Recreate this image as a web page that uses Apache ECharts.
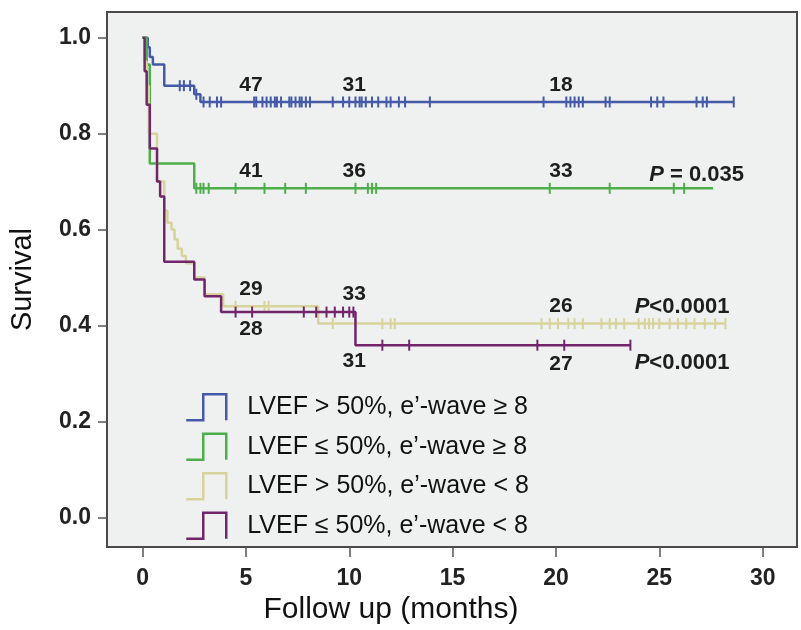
<!DOCTYPE html>
<html>
<head>
<meta charset="utf-8">
<script src="https://cdn.jsdelivr.net/npm/echarts@6/dist/echarts.min.js"></script>
<style>
html, body { margin: 0; padding: 0; background: #fff; }
#main { width: 801px; height: 630px; }
</style>
</head>
<body>
<div id="main"></div>
<script>
// survival curves (months, survival after each drop)
var groupNames = [
    'LVEF > 50%, e\u2019-wave \u2265 8',
    'LVEF \u2264 50%, e\u2019-wave \u2265 8',
    'LVEF > 50%, e\u2019-wave < 8',
    'LVEF \u2264 50%, e\u2019-wave < 8'
];

var blueTimes = [0.25, 0.35, 0.5, 1.05, 2.5, 2.8];
var blueSurv = [0.98, 0.96, 0.944, 0.90, 0.882, 0.866];
var blueEnd = 28.6;
var blueCensor = [1.8, 2.0, 2.3, 2.6, 2.95, 3.25, 3.6, 3.8, 5.4, 5.5, 5.8, 6.0, 6.2, 6.4, 6.5, 6.7, 7.1, 7.2, 7.4, 7.6, 7.7, 7.9, 8.1,
    9.2, 9.7, 10.0, 10.3, 10.5, 10.6, 10.8, 11.1, 11.4, 11.8, 12.0, 12.4, 12.7, 13.9, 19.4, 20.5, 20.7, 20.9, 21.1, 21.3,
    22.4, 22.6, 24.6, 24.9, 25.2, 26.8, 27.1, 27.3, 28.6];

var greenTimes = [0.2, 0.35, 2.5];
var greenSurv = [0.944, 0.738, 0.686];
var greenEnd = 27.6;
var greenCensor = [2.6, 2.8, 2.95, 3.2, 4.5, 5.9, 6.9, 7.9, 10.3, 10.9, 11.1, 11.3, 19.7, 22.6, 25.7, 26.2];

var tanTimes = [0.1, 0.2, 0.3, 0.7, 1.05, 1.2, 1.4, 1.55, 1.7, 1.9, 2.1, 2.5, 3.0, 3.9, 8.5];
var tanSurv = [0.95, 0.90, 0.80, 0.70, 0.64, 0.614, 0.60, 0.58, 0.56, 0.545, 0.53, 0.50, 0.465, 0.44, 0.404];
var tanEnd = 28.2;
var tanCensor = [4.5, 5.9, 6.1, 9.2, 11.6, 12.0, 12.2, 19.3, 19.7, 20.1, 20.6, 20.9, 21.3, 22.2, 22.6, 22.9, 23.3,
    24.0, 24.3, 24.5, 24.7, 25.0, 25.5, 25.9, 26.3, 26.7, 27.2, 27.7, 28.2];

var purpleTimes = [0.1, 0.2, 0.35, 0.7, 0.85, 1.05, 2.5, 3.0, 3.8, 10.3];
var purpleSurv = [0.93, 0.86, 0.769, 0.70, 0.669, 0.533, 0.496, 0.461, 0.428, 0.359];
var purpleEnd = 23.6;
var purpleCensor = [4.5, 5.3, 7.8, 8.4, 8.9, 9.3, 9.7, 10.0, 10.2, 11.6, 12.9, 19.1, 20.4, 23.6];

// numbers at risk
var riskTimes = [5, 10, 20];
var blueRisk = [47, 31, 18];
var greenRisk = [41, 36, 33];
var tanRisk = [29, 33, 26];
var purpleRisk = [28, 31, 27];

var pTexts = [' = 0.035', '<0.0001', '<0.0001'];

var xTicks = [0, 5, 10, 15, 20, 25, 30];
var yTicks = [0, 0.2, 0.4, 0.6, 0.8, 1.0];

var FONT = '"Liberation Sans", Arial, sans-serif';
var colors = ['#4459A8', '#4DAE4A', '#D7D39A', '#72256B'];

function survAt(times, surv, t) {
    var s = 1;
    for (var i = 0; i < times.length; i++) {
        if (times[i] <= t) s = surv[i];
    }
    return s;
}

function curveData(times, surv, end) {
    var d = [[0, 1]];
    for (var i = 0; i < times.length; i++) d.push([times[i], surv[i]]);
    d.push([end, surv[surv.length - 1]]);
    return d;
}

function censorData(times, surv, censor) {
    var d = [];
    for (var i = 0; i < censor.length; i++) d.push([censor[i], survAt(times, surv, censor[i])]);
    return d;
}

var groups = [
    { times: blueTimes, surv: blueSurv, end: blueEnd, censor: blueCensor, risk: blueRisk },
    { times: greenTimes, surv: greenSurv, end: greenEnd, censor: greenCensor, risk: greenRisk },
    { times: tanTimes, surv: tanSurv, end: tanEnd, censor: tanCensor, risk: tanRisk },
    { times: purpleTimes, surv: purpleSurv, end: purpleEnd, censor: purpleCensor, risk: purpleRisk }
];

// where the at-risk numbers and P values sit (survival units)
var riskLevels = [[0.901, 0.901, 0.901], [0.722, 0.722, 0.722], [0.476, 0.466, 0.441], [0.392, 0.326, 0.320]];
var pSpots = [[26.8, 0.713], [26.1, 0.439], [26.1, 0.322]];

var series = [];
var legendData = [];
for (var g = 0; g < groups.length; g++) {
    var gr = groups[g];
    series.push({
        name: groupNames[g],
        type: 'line',
        step: 'end',
        symbol: 'none',
        lineStyle: { width: 2.5, color: colors[g] },
        itemStyle: { color: colors[g] },
        data: curveData(gr.times, gr.surv, gr.end),
        z: 2 + g
    });
    series.push({
        name: groupNames[g] + ' censored',
        type: 'scatter',
        symbol: 'rect',
        symbolSize: [2, 11],
        itemStyle: { color: colors[g], opacity: 1 },
        silent: true,
        data: censorData(gr.times, gr.surv, gr.censor),
        z: 2 + g
    });
    legendData.push({
        name: groupNames[g],
        itemStyle: { color: 'rgba(0,0,0,0)', borderColor: colors[g], borderWidth: 2.5 }
    });
}

var notes = [];
for (var g = 0; g < groups.length; g++) {
    for (var k = 0; k < riskTimes.length; k++) {
        notes.push([riskTimes[k], riskLevels[g][k], String(groups[g].risk[k])]);
    }
}
series.push({
    name: 'notes',
    type: 'scatter',
    symbolSize: 0,
    silent: true,
    itemStyle: { opacity: 1 },
    data: notes,
    label: {
        show: true, position: 'inside', offset: [5, 0],
        formatter: function (p) { return p.data[2]; },
        fontSize: 21, fontWeight: 'bold', color: '#1e1e1e', fontFamily: FONT, textBorderWidth: 0
    },
    z: 10
});
var pNotes = [];
for (var i = 0; i < pTexts.length; i++) pNotes.push([pSpots[i][0], pSpots[i][1], pTexts[i]]);
series.push({
    name: 'pvalues',
    type: 'scatter',
    symbolSize: 0,
    silent: true,
    itemStyle: { opacity: 1 },
    data: pNotes,
    label: {
        show: true, position: 'inside',
        formatter: function (p) { return '{i|P}' + p.data[2]; },
        fontSize: 22, fontWeight: 'bold', color: '#1e1e1e', fontFamily: FONT, textBorderWidth: 0,
        rich: { i: { fontStyle: 'italic', fontSize: 22, fontWeight: 'bold', color: '#1e1e1e', fontFamily: FONT } }
    },
    z: 10
});

var chart = echarts.init(document.getElementById('main'));
var option = {
    animation: false,
    backgroundColor: '#fff',
    grid: {
        left: 105, right: 4, top: 12, bottom: 77,
        show: true, backgroundColor: '#EEF1F0', borderColor: '#4a4a4a', borderWidth: 2
    },
    legend: {
        orient: 'vertical',
        left: 180, top: 388,
        itemWidth: 40, itemHeight: 26, itemGap: 11,
        icon: 'path://M0,26 L17,26 L17,0 L40,0 L40,26',
        data: legendData,
        textStyle: { fontSize: 25, color: '#111', fontFamily: FONT, padding: [0, 0, 0, 16] },
        selectedMode: false
    },
    xAxis: {
        type: 'value', min: -1.72, max: 31.66,
        splitLine: { show: false },
        axisLine: { show: false, onZero: false },
        axisTick: { show: true, length: 10, customValues: xTicks, lineStyle: { color: '#555', width: 1.5 } },
        axisLabel: { customValues: xTicks, margin: 20, fontSize: 23, fontWeight: 'bold', color: '#222', fontFamily: FONT },
        name: 'Follow up (months)', nameLocation: 'middle', nameGap: 44,
        nameTextStyle: { fontSize: 30, color: '#111', fontFamily: FONT, padding: [0, 122, 0, 0] }
    },
    yAxis: {
        type: 'value', min: -0.0619, max: 1.0536,
        splitLine: { show: false },
        axisLine: { show: false, onZero: false },
        axisTick: { show: true, length: 9, customValues: yTicks, lineStyle: { color: '#555', width: 1.5 } },
        axisLabel: {
            customValues: yTicks, margin: 16, fontSize: 23, fontWeight: 'bold', color: '#222', fontFamily: FONT,
            formatter: function (v) { return v.toFixed(1); }
        },
        name: 'Survival', nameLocation: 'middle', nameGap: 70,
        nameTextStyle: { fontSize: 29, color: '#111', fontFamily: FONT }
    },
    series: series
};
chart.setOption(option);
</script>
</body>
</html>
